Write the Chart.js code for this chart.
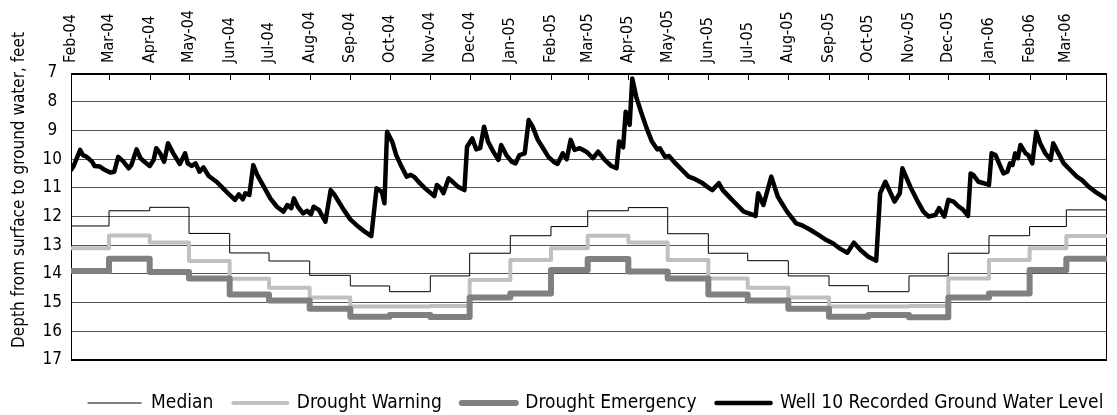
<!DOCTYPE html>
<html>
<head>
<meta charset="utf-8">
<script src="https://cdn.jsdelivr.net/npm/chart.js@4"></script>
<style>
  html, body { margin: 0; padding: 0; background: #fff; }
</style>
</head>
<body>
<canvas id="chartJSContainer" width="1117" height="415"></canvas>
<script>
var FONT = "'Liberation Sans Narrow', 'Arial Narrow', 'DejaVu Sans Condensed', sans-serif";

// month ticks, as days since 1 Feb 2004
var monthLabels = ["Feb-04", "Mar-04", "Apr-04", "May-04", "Jun-04", "Jul-04", "Aug-04", "Sep-04", "Oct-04",
  "Nov-04", "Dec-04", "Jan-05", "Feb-05", "Mar-05", "Apr-05", "May-05", "Jun-05", "Jul-05", "Aug-05",
  "Sep-05", "Oct-05", "Nov-05", "Dec-05", "Jan-06", "Feb-06", "Mar-06"];
var monthStartDay = [0, 29, 60, 90, 121, 151, 182, 213, 243, 274, 304, 335, 366, 394, 425, 455, 486, 516, 547,
  578, 608, 639, 669, 700, 731, 759];
var lastDay = 790; // 1 Apr 2006

// monthly levels, one value per month above
var medianDepth = [12.33, 11.80, 11.68, 12.59, 13.27, 13.55, 14.05, 14.42, 14.62, 14.07, 13.28, 12.67,
  12.35, 11.80, 11.69, 12.60, 13.28, 13.54, 14.07, 14.41, 14.62, 14.07, 13.28, 12.67, 12.35, 11.77];
var warningDepth = [13.11, 12.66, 12.91, 13.55, 14.17, 14.48, 14.82, 15.14, 15.14, 15.12, 14.21, 13.52,
  13.11, 12.67, 12.91, 13.52, 14.16, 14.48, 14.82, 15.14, 15.14, 15.12, 14.16, 13.52, 13.11, 12.68];
var emergencyDepth = [13.90, 13.47, 13.93, 14.16, 14.72, 14.93, 15.21, 15.49, 15.43, 15.50, 14.82, 14.68,
  13.86, 13.48, 13.92, 14.16, 14.72, 14.93, 15.21, 15.49, 15.43, 15.51, 14.82, 14.68, 13.86, 13.47];

// well 10 readings
var wellDay = [0, 2, 7, 9, 12, 16, 18, 22, 26, 30, 33, 36, 40, 44, 46, 50, 53, 56, 60, 63, 65, 68, 71, 74, 78,
  83, 87, 89, 92, 95, 98, 101, 105, 111, 116, 121, 125, 128, 131, 133, 136, 139, 142, 147, 152, 157, 162,
  165, 168, 170, 173, 177, 180, 183, 185, 189, 194, 198, 201, 208, 213, 219, 224, 229, 233, 237, 239, 241,
  245, 248, 252, 256, 259, 262, 266, 270, 274, 277, 279, 282, 284, 288, 291, 295, 300, 302, 306, 309, 312,
  315, 318, 322, 326, 328, 332, 336, 339, 342, 346, 349, 352, 356, 360, 364, 368, 371, 375, 378, 381, 384,
  388, 393, 398, 402, 407, 412, 416, 418, 421, 423, 426, 428, 431, 435, 439, 443, 447, 449, 453, 456, 461,
  466, 471, 476, 481, 485, 489, 494, 497, 503, 508, 513, 518, 522, 524, 528, 534, 539, 546, 553, 557, 564,
  570, 576, 581, 586, 592, 597, 602, 608, 614, 617, 621, 628, 632, 634, 640, 645, 650, 654, 659, 662, 666,
  669, 673, 677, 680, 684, 686, 688, 692, 696, 700, 702, 705, 711, 714, 716, 718, 720, 722, 724, 728, 730,
  733, 736, 739, 743, 747, 749, 753, 757, 762, 767, 771, 776, 782, 790];
var wellDepth = [10.38, 10.24, 9.68, 9.86, 9.92, 10.09, 10.24, 10.26, 10.38, 10.47, 10.44, 9.92, 10.09, 10.32,
  10.21, 9.66, 9.97, 10.09, 10.24, 10.03, 9.62, 9.80, 10.09, 9.45, 9.80, 10.17, 9.80, 10.15, 10.24, 10.15,
  10.44, 10.29, 10.59, 10.79, 11.02, 11.25, 11.42, 11.23, 11.40, 11.19, 11.25, 10.21, 10.55, 10.96, 11.37,
  11.66, 11.83, 11.60, 11.71, 11.37, 11.66, 11.89, 11.80, 11.92, 11.66, 11.77, 12.18, 11.08, 11.25, 11.77,
  12.10, 12.35, 12.53, 12.68, 11.02, 11.14, 11.54, 9.05, 9.40, 9.86, 10.26, 10.61, 10.55, 10.63, 10.84,
  11.02, 11.17, 11.29, 10.90, 11.02, 11.19, 10.67, 10.79, 10.96, 11.08, 9.57, 9.28, 9.66, 9.62, 8.87, 9.39,
  9.74, 10.03, 9.51, 9.86, 10.09, 10.15, 9.86, 9.80, 8.64, 8.87, 9.33, 9.62, 9.92, 10.09, 10.17, 9.80,
  10.01, 9.33, 9.68, 9.62, 9.74, 9.97, 9.74, 10.03, 10.24, 10.32, 9.39, 9.59, 8.35, 8.81, 7.19, 7.83, 8.40,
  8.93, 9.39, 9.66, 9.62, 9.92, 9.89, 10.15, 10.38, 10.61, 10.70, 10.82, 10.96, 11.08, 10.84, 11.08, 11.37,
  11.60, 11.83, 11.91, 11.98, 11.19, 11.60, 10.61, 11.31, 11.83, 12.24, 12.30, 12.47, 12.64, 12.82, 12.93,
  13.11, 13.26, 12.91, 13.17, 13.40, 13.54, 11.19, 10.79, 11.48, 11.19, 10.32, 10.96, 11.42, 11.83, 12.00,
  11.95, 11.71, 12.00, 11.42, 11.48, 11.66, 11.75, 11.98, 10.50, 10.55, 10.79, 10.84, 10.90, 9.80, 9.86,
  10.50, 10.44, 10.15, 10.21, 9.80, 9.97, 9.51, 9.80, 9.86, 10.15, 9.05, 9.45, 9.80, 10.03, 9.45, 9.80,
  10.15, 10.38, 10.61, 10.73, 10.96, 11.17, 11.40];

var yTitle = "Depth from surface to ground water, feet";

var pad = { top: 0, right: 10, bottom: -7.5, left: 0 };

function stepPoints(values) {
  var pts = monthStartDay.map(function (d, i) { return { x: d, y: values[i] }; });
  pts.push({ x: lastDay, y: values[values.length - 1] });
  return pts;
}

// plot frame, inward month ticks, y title, legend nudge
var framePlugin = {
  id: "frame",
  afterLayout: function (chart) {
    // the original legend is centred a little right of the page centre
    chart.legend.left += 42;
    chart.legend.right += 42;
  },
  beforeDatasetsDraw: function (chart) {
    var a = chart.chartArea, ctx = chart.ctx, xs = chart.scales.x;
    ctx.save();
    ctx.strokeStyle = "#000";
    ctx.lineWidth = 1;
    ctx.beginPath();
    ctx.moveTo(a.left + 0.5, a.top);
    ctx.lineTo(a.left + 0.5, a.bottom);
    ctx.moveTo(a.right - 0.5, a.top);
    ctx.lineTo(a.right - 0.5, a.bottom);
    monthStartDay.forEach(function (d) {
      var px = Math.round(xs.getPixelForValue(d)) + 0.5;
      ctx.moveTo(px, a.top);
      ctx.lineTo(px, a.top + 7);
    });
    ctx.stroke();
    ctx.lineWidth = 2;
    ctx.beginPath();
    ctx.moveTo(a.left, a.top + 1);
    ctx.lineTo(a.right, a.top + 1);
    ctx.moveTo(a.left, a.bottom);
    ctx.lineTo(a.right, a.bottom);
    ctx.stroke();
    ctx.restore();
  },
  afterDraw: function (chart) {
    var ctx = chart.ctx;
    ctx.save();
    ctx.translate(20, 190);
    ctx.rotate(-Math.PI / 2);
    ctx.font = "17px " + FONT;
    ctx.fillStyle = "#000";
    ctx.textAlign = "center";
    ctx.textBaseline = "middle";
    ctx.fillText(yTitle, 0, 0);
    ctx.restore();
  }
};

Chart.defaults.font.family = FONT;
Chart.defaults.color = "#000";

var options = {
  type: "line",
  data: {
    datasets: [
      {
        label: "Median",
        data: stepPoints(medianDepth),
        borderColor: "#000000",
        borderWidth: 1,
        stepped: true,
        pointRadius: 0,
        order: 3,
      },
      {
        label: "Drought Warning",
        data: stepPoints(warningDepth),
        borderColor: "#c0c0c0",
        borderWidth: 4,
        stepped: true,
        pointRadius: 0,
        borderJoinStyle: "round",
        borderCapStyle: "round",
        order: 2,
      },
      {
        label: "Drought Emergency",
        data: stepPoints(emergencyDepth),
        borderColor: "#808080",
        borderWidth: 6,
        stepped: true,
        pointRadius: 0,
        borderJoinStyle: "round",
        borderCapStyle: "round",
        order: 1,
      },
      {
        label: "Well 10 Recorded Ground Water Level",
        data: wellDay.map(function (d, i) { return { x: d, y: wellDepth[i] }; }),
        borderColor: "#000000",
        borderWidth: 4.5,
        pointRadius: 0,
        borderJoinStyle: "round",
        borderCapStyle: "round",
        order: 0,
      },
    ],
  },
  options: {
    responsive: false,
    animation: false,
    layout: { padding: pad },
    scales: {
      x: {
        type: "linear",
        position: "top",
        min: 0,
        max: lastDay,
        grid: { display: false, drawTicks: false },
        border: { display: false },
        afterBuildTicks: function (scale) {
          scale.ticks = monthStartDay.map(function (d) { return { value: d }; });
        },
        afterFit: function (scale) { scale.height = 73 - pad.top; },
        ticks: {
          autoSkip: false,
          minRotation: 90,
          maxRotation: 90,
          padding: 10,
          labelOffset: 19,
          font: { size: 16 },
          callback: function (v, i) { return monthLabels[i]; },
        },
      },
      y: {
        type: "linear",
        reverse: true,
        min: 7,
        max: 17,
        grid: { color: "#555555", drawTicks: false },
        border: { display: false },
        afterFit: function (scale) { scale.width = 71 - pad.left; },
        ticks: { stepSize: 1, padding: 9, crossAlign: "center", font: { size: 17 } },
      },
    },
    plugins: {
      tooltip: { enabled: false },
      legend: {
        position: "bottom",
        title: { display: true, text: " ", font: { size: 10 }, padding: { top: 1.5, bottom: 0 } },
        labels: {
          usePointStyle: true,
          pointStyleWidth: 54,
          padding: 20,
          font: { size: 19 },
          generateLabels: function (chart) {
            return chart.data.datasets.map(function (ds, i) {
              return {
                text: ds.label,
                fillStyle: ds.borderColor,
                strokeStyle: ds.borderColor,
                lineWidth: ds.borderWidth,
                lineCap: ds.borderWidth > 1 ? "round" : "butt",
                pointStyle: "line",
                fontColor: "#000",
                datasetIndex: i,
                hidden: false,
              };
            });
          },
        },
      },
    },
  },
  plugins: [framePlugin],
};

var ctx = document.getElementById("chartJSContainer").getContext("2d");
new Chart(ctx, options);
</script>
</body>
</html>
